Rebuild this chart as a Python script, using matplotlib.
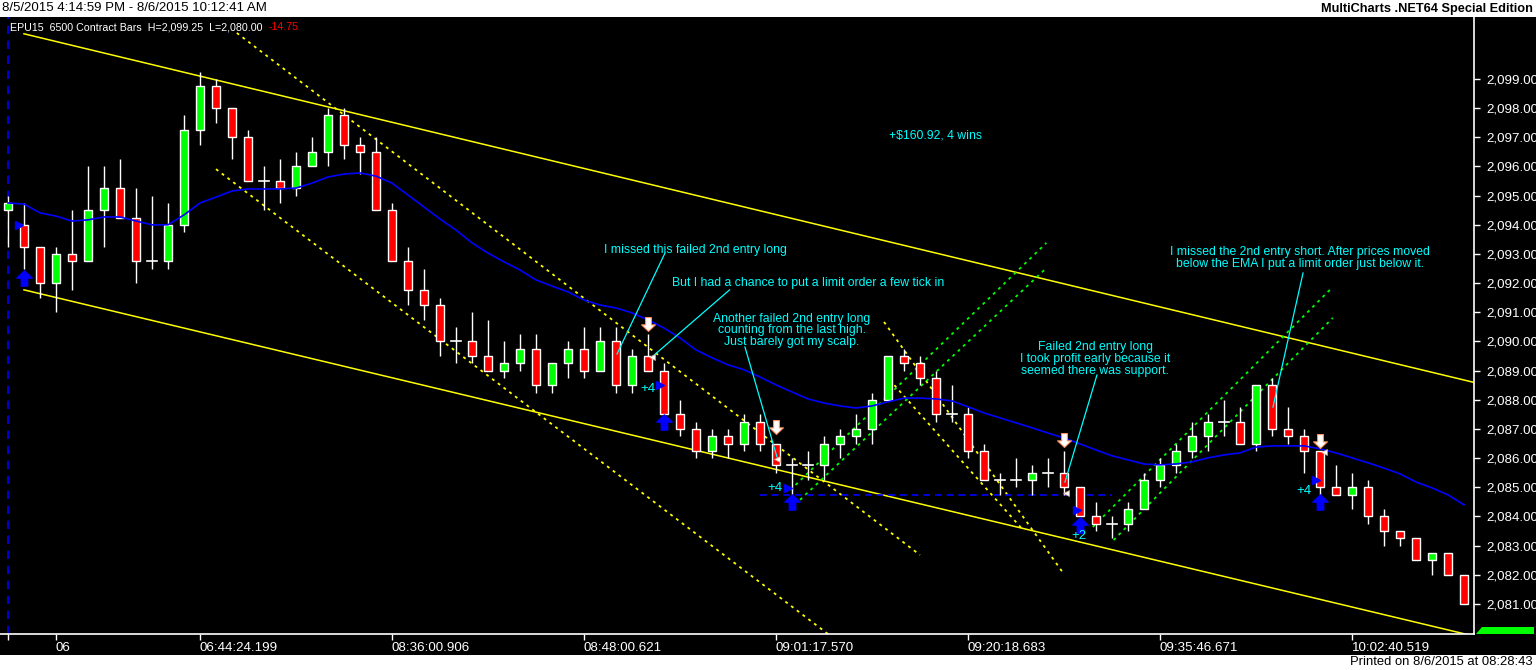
import matplotlib
matplotlib.use("Agg")
import matplotlib.pyplot as plt
from matplotlib.patches import Rectangle, Polygon
from matplotlib.path import Path

W, H = 1536, 670
NARROW = ['Liberation Sans Narrow', 'Liberation Sans', 'DejaVu Sans']

# --- bar data (EPU15, 6500 contract bars) ---
opens = [2094.5, 2094.0, 2093.25, 2092.0, 2093.0, 2092.75, 2094.5, 2095.25, 2094.25, 2092.75,
         2092.75, 2094.0, 2097.25, 2098.75, 2098.0, 2097.0, 2095.5, 2095.5, 2095.25, 2096.0,
         2096.5, 2097.75, 2096.75, 2096.5, 2094.5, 2092.75, 2091.75, 2091.25, 2090.0, 2090.0,
         2089.5, 2089.0, 2089.25, 2089.75, 2088.5, 2089.25, 2089.75, 2089.0, 2090.0, 2088.5,
         2089.5, 2089.0, 2087.5, 2087.0, 2086.25, 2086.75, 2086.5, 2087.25, 2086.5, 2085.75,
         2085.75, 2085.75, 2086.5, 2086.75, 2087.0, 2088.0, 2089.5, 2089.25, 2088.75, 2087.5,
         2087.5, 2086.25, 2085.25, 2085.25, 2085.25, 2085.5, 2085.5, 2085.0, 2084.0, 2083.75,
         2083.75, 2084.25, 2085.25, 2085.75, 2086.25, 2086.75, 2087.25, 2087.25, 2086.5, 2088.5,
         2087.0, 2086.75, 2086.25, 2085.0, 2084.75, 2085.0, 2084.0, 2083.5, 2083.25, 2082.5,
         2082.75, 2082.0]
highs = [2095.0, 2094.75, 2093.25, 2093.25, 2094.5, 2096.0, 2096.0, 2096.25, 2095.25, 2095.0,
         2094.75, 2097.75, 2099.25, 2099.0, 2098.0, 2097.25, 2096.0, 2096.25, 2096.5, 2097.0,
         2098.0, 2098.0, 2097.0, 2097.0, 2094.75, 2093.25, 2092.5, 2091.5, 2090.5, 2091.0,
         2090.75, 2090.0, 2090.25, 2090.25, 2089.25, 2090.0, 2090.5, 2090.5, 2090.5, 2089.75,
         2090.25, 2089.25, 2088.0, 2087.25, 2087.0, 2087.0, 2087.5, 2087.5, 2086.5, 2086.0,
         2086.25, 2086.75, 2087.0, 2087.5, 2088.25, 2089.5, 2089.75, 2089.5, 2089.0, 2088.5,
         2087.75, 2086.5, 2085.5, 2086.0, 2085.75, 2086.0, 2086.25, 2085.0, 2084.5, 2084.0,
         2084.5, 2085.5, 2086.0, 2086.5, 2087.25, 2087.5, 2088.0, 2087.75, 2088.5, 2088.75,
         2087.75, 2087.0, 2086.25, 2085.75, 2085.5, 2085.25, 2084.25, 2083.5, 2083.25, 2082.75,
         2082.75, 2082.0]
lows = [2093.25, 2092.5, 2091.5, 2091.0, 2091.75, 2092.75, 2093.25, 2094.25, 2092.0, 2092.5,
        2092.5, 2093.75, 2096.75, 2097.5, 2096.25, 2095.5, 2094.5, 2094.75, 2095.0, 2096.0,
        2096.0, 2096.25, 2095.75, 2094.5, 2092.75, 2091.25, 2090.75, 2089.5, 2089.25, 2089.25,
        2089.0, 2088.75, 2089.0, 2088.25, 2088.25, 2088.75, 2088.75, 2089.0, 2088.25, 2088.25,
        2089.0, 2087.5, 2086.75, 2086.0, 2086.0, 2086.0, 2086.25, 2086.25, 2085.5, 2084.75,
        2085.25, 2085.25, 2086.0, 2086.5, 2086.5, 2088.0, 2089.0, 2088.5, 2087.25, 2087.25,
        2086.0, 2085.25, 2084.75, 2085.0, 2084.75, 2085.0, 2084.75, 2084.0, 2083.5, 2083.25,
        2083.5, 2084.25, 2085.0, 2085.5, 2086.0, 2086.25, 2086.75, 2086.5, 2086.25, 2086.75,
        2086.5, 2085.5, 2084.75, 2084.75, 2084.25, 2083.75, 2083.0, 2083.0, 2082.5, 2082.0,
        2082.0, 2081.0]
closes = [2094.75, 2093.25, 2092.0, 2093.0, 2092.75, 2094.5, 2095.25, 2094.25, 2092.75, 2092.75,
          2094.0, 2097.25, 2098.75, 2098.0, 2097.0, 2095.5, 2095.5, 2095.25, 2096.0, 2096.5,
          2097.75, 2096.75, 2096.5, 2094.5, 2092.75, 2091.75, 2091.25, 2090.0, 2090.0, 2089.5,
          2089.0, 2089.25, 2089.75, 2088.5, 2089.25, 2089.75, 2089.0, 2090.0, 2088.5, 2089.5,
          2089.0, 2087.5, 2087.0, 2086.25, 2086.75, 2086.5, 2087.25, 2086.5, 2085.75, 2085.75,
          2085.75, 2086.5, 2086.75, 2087.0, 2088.0, 2089.5, 2089.25, 2088.75, 2087.5, 2087.5,
          2086.25, 2085.25, 2085.25, 2085.25, 2085.5, 2085.5, 2085.0, 2084.0, 2083.75, 2083.75,
          2084.25, 2085.25, 2085.75, 2086.25, 2086.75, 2087.25, 2087.25, 2086.5, 2088.5, 2087.0,
          2086.75, 2086.25, 2085.0, 2084.75, 2085.0, 2084.0, 2083.5, 2083.25, 2082.5, 2082.75,
          2082.0, 2081.0]

# EMA
ema = [2094.75, 2094.71, 2094.41, 2094.30, 2094.13, 2094.17, 2094.27, 2094.27, 2094.13, 2094.0,
       2094.0, 2094.34, 2094.75, 2094.95, 2095.16, 2095.23, 2095.23, 2095.23, 2095.26, 2095.43,
       2095.64, 2095.74, 2095.78, 2095.67, 2095.43, 2095.02, 2094.61, 2094.20, 2093.82, 2093.38,
       2093.03, 2092.73, 2092.45, 2092.11, 2091.90, 2091.70, 2091.42, 2091.25, 2091.15, 2090.98,
       2090.74, 2090.46, 2090.12, 2089.71, 2089.44, 2089.20, 2089.03, 2088.78, 2088.51, 2088.27,
       2088.03, 2087.89, 2087.79, 2087.72, 2087.79, 2087.93, 2088.06, 2088.06, 2088.03, 2087.96,
       2087.76, 2087.55, 2087.38, 2087.21, 2087.04, 2086.86, 2086.69, 2086.49, 2086.28, 2086.08,
       2085.94, 2085.80, 2085.77, 2085.80, 2085.87, 2086.01, 2086.11, 2086.18, 2086.38, 2086.42,
       2086.42, 2086.42, 2086.32, 2086.18, 2086.01, 2085.84, 2085.66, 2085.46, 2085.18, 2084.98,
       2084.74, 2084.40]

y_ticks = list(range(2081, 2100))
x_tick_bars = [0, 3, 12, 24, 36, 48, 60, 72, 84]
x_tick_labels = ['', '06', '06:44:24.199', '08:36:00.906', '08:48:00.621',
                 '09:01:17.570', '09:20:18.683', '09:35:46.671', '10:02:40.519']

# trend lines: (bar indices, prices)
channel_lines = [([1, 91.6], [2100.55, 2088.6]),
                 ([1, 91.6], [2091.77, 2079.9])]
yellow_dotted = [([14.3, 57.0], [2100.58, 2082.68]),
                 ([13.0, 51.25], [2095.91, 2079.97]),
                 ([54.75, 65.9], [2090.67, 2082.1]),
                 ([55.4, 63.5], [2088.5, 2083.5])]
green_dotted = [([48.9, 64.9], [2084.91, 2093.38]),
                ([49.5, 64.9], [2084.57, 2092.52]),
                ([67.8, 82.8], [2083.64, 2091.87]),
                ([69.1, 82.8], [2083.19, 2090.81])]
support_line = ([47, 69], [2084.75, 2084.75])

# trade markers
long_bars = [1, 41, 49, 67, 82]
long_arrow_prices = [2092.18, 2087.24, 2084.5, 2083.71, 2084.5]
entry_bars = [0.7, 40.75, 48.75, 66.8, 81.75]
entry_prices = [2094.0, 2088.5, 2084.98, 2084.22, 2085.25]
signal_bars = [40, 48, 66, 82]
signal_prices = [2090.6, 2087.07, 2086.62, 2086.59]
exit_bars = [40.25, 48.06, 66.12, 82.25]
exit_prices = [2089.47, 2085.97, 2084.81, 2086.21]
profit_labels = ['+4', '+4', '+2', '+4']
profit_bars = [40, 47.94, 66.94, 81]
profit_prices = [2088.37, 2084.98, 2083.33, 2084.87]

# comment lines (bar, price) pairs
note_lines = [([41.06, 38.06], [2093.03, 2089.57]),
              ([45.1, 40.25], [2091.77, 2089.47]),
              ([46.06, 48.06], [2089.81, 2086.04]),
              ([68.06, 66.06], [2088.85, 2085.18]),
              ([80.94, 79.06], [2092.35, 2087.75])]

fig = plt.figure(figsize=(W / 100, H / 100), dpi=100, facecolor='white')
fig.patches.append(Rectangle((0, 15 / H), 1, (655 - 17) / H, transform=fig.transFigure,
                             facecolor='black', edgecolor='none', zorder=-5))

ax = fig.add_axes([0, 1 - 634 / H, 1474 / W, (634 - 17) / H])
ax.set_zorder(1)
ax.set_facecolor('black')
ax.set_xlim(-0.5, 91.625)
ax.set_ylim(2079.97, 2101.126)

# candles
for i, (o, h, l, c) in enumerate(zip(opens, highs, lows, closes)):
    ax.plot([i, i], [l, h], color='white', lw=1.0, zorder=3, solid_capstyle='butt')
    if o == c:
        ax.plot([i - 0.32, i + 0.32], [o, o], color='white', lw=1.2, zorder=4)
    else:
        col = '#00ff00' if c > o else '#ff0000'
        ax.add_patch(Rectangle((i - 0.26, min(o, c)), 0.52, abs(c - o), facecolor=col,
                               edgecolor='white', lw=1.0, zorder=4))

ax.plot(range(len(ema)), ema, color='#0000ff', lw=1.2, zorder=5)

for xs, ys in channel_lines:
    ax.plot(xs, ys, color='#ffff00', lw=1.1, zorder=2)
for xs, ys in yellow_dotted:
    ax.plot(xs, ys, color='#ffff00', lw=1.3, dashes=(1.6, 2.4), zorder=2)
for xs, ys in green_dotted:
    ax.plot(xs, ys, color='#00ff00', lw=1.3, dashes=(1.6, 2.4), zorder=2)
ax.plot(*support_line, color='#0000ff', lw=1.2, dashes=(4, 3), zorder=2)
ax.axvline(0, color='#0000ff', lw=1.2, dashes=(5, 4), zorder=1)

for xs, ys in note_lines:
    ax.plot(xs, ys, color='#00ffff', lw=0.9, zorder=6)

up_arrow = Path([(0, 1), (1, 0.05), (0.42, 0.05), (0.42, -1), (-0.42, -1), (-0.42, 0.05),
                 (-1, 0.05), (0, 1)], closed=True)
down_arrow = Path([(0, -1), (1, -0.05), (0.42, -0.05), (0.42, 1), (-0.42, 1), (-0.42, -0.05),
                   (-1, -0.05), (0, -1)], closed=True)
ax.plot(long_bars, long_arrow_prices, ls='none', marker=up_arrow, ms=11,
        mfc='#0000ff', mec='#0000ff', zorder=7)
ax.plot(entry_bars, entry_prices, ls='none', marker='>', ms=6,
        mfc='#0000ff', mec='#0000ff', zorder=7)
ax.plot(signal_bars, signal_prices, ls='none', marker=down_arrow, ms=10,
        mfc='white', mec='#ff9060', mew=0.8, zorder=7)
ax.plot(exit_bars, exit_prices, ls='none', marker='<', ms=5,
        mfc='white', mec='#e0a080', mew=0.5, zorder=7)
for lab, xb, yp in zip(profit_labels, profit_bars, profit_prices):
    ax.text(xb, yp, lab, color='#00ffff', fontsize=9.5, ha='center', va='center',
            family=NARROW, zorder=8)

note_kw = dict(color='#00ffff', fontsize=8.8, ha='center', va='center', family=NARROW,
               linespacing=0.95, zorder=8)
ax.text(57.94, 2097.05, '+$160.92, 4 wins', **note_kw)
ax.text(42.94, 2093.14, 'I missed this failed 2nd entry long', **note_kw)
ax.text(50.0, 2092.0, 'But I had a chance to put a limit order a few tick in', **note_kw)
ax.text(49.0, 2090.39, 'Another failed 2nd entry long\ncounting from the last high.\n'
        'Just barely got my scalp.', **note_kw)
ax.text(67.94, 2089.4, 'Failed 2nd entry long\nI took profit early because it\n'
        'seemed there was support.', **note_kw)
ax.text(80.75, 2092.86, 'I missed the 2nd entry short. After prices moved\n'
        'below the EMA I put a limit order just below it.', **note_kw)

# axes styling
for side in ['top', 'left']:
    ax.spines[side].set_visible(False)
for side in ['right', 'bottom']:
    ax.spines[side].set_color('white')
    ax.spines[side].set_linewidth(1.2)
ax.yaxis.tick_right()
ax.set_yticks(y_ticks)
ax.set_yticklabels([f'{v:,.2f}' for v in y_ticks])
ax.tick_params(axis='y', colors='white', length=4, width=1, pad=5, labelsize=9.6)
ax.set_xticks(x_tick_bars)
ax.set_xticklabels(x_tick_labels)
ax.tick_params(axis='x', colors='white', length=4, width=1, pad=2, labelsize=9.6)
for t in ax.get_xticklabels():
    t.set_ha('left')
    t.set_family(NARROW)
for t in ax.get_yticklabels():
    t.set_family(NARROW)

# last price marker peeking out at the bottom of the price scale
fig.patches.append(Polygon([(1476 / W, 1 - 634 / H), (1482 / W, 1 - 627 / H),
                            (1534 / W, 1 - 627 / H), (1534 / W, 1 - 634 / H)],
                           closed=True, transform=fig.transFigure, facecolor='#00ff00',
                           edgecolor='none', zorder=5))

# header texts
fig.text(2 / W, 1 - 8 / H, '8/5/2015 4:14:59 PM - 8/6/2015 10:12:41 AM', color='black',
         fontsize=9.5, va='center', ha='left', family=['Liberation Sans', 'DejaVu Sans'])
fig.text(1533 / W, 1 - 9 / H, 'MultiCharts .NET64 Special Edition', color='black',
         fontsize=9.2, fontweight='bold', va='center', ha='right',
         family=['Liberation Sans', 'DejaVu Sans'])
t1 = fig.text(10 / W, 1 - 27 / H, 'EPU15  6500 Contract Bars  H=2,099.25  L=2,080.00',
              color='white', fontsize=7.7, va='center', ha='left', zorder=10,
              family=['Liberation Sans', 'DejaVu Sans'])
ax.annotate('-14.75', xy=(1, 0.5), xycoords=t1, xytext=(4, 0),
            textcoords='offset points', color='#ff0000', fontsize=7.7, va='center',
            ha='left', family=['Liberation Sans', 'DejaVu Sans'],
            annotation_clip=False, zorder=10)
fig.text(1533 / W, 1 - 662 / H, 'Printed on 8/6/2015 at 08:28:43', color='black',
         fontsize=9.4, va='center', ha='right', family=NARROW)

fig.savefig('out.png', dpi=100, facecolor='white')
